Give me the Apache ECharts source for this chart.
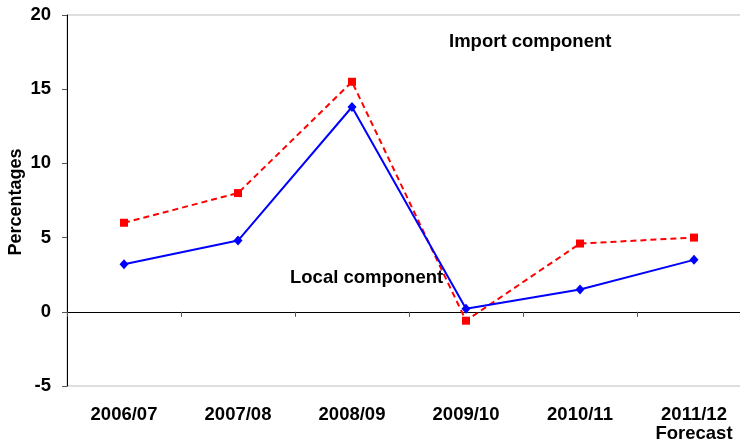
<!DOCTYPE html>
<html>
<head>
<meta charset="utf-8">
<script src="https://cdn.jsdelivr.net/npm/echarts@6/dist/echarts.min.js"></script>
<style>
html,body{margin:0;padding:0;background:#fff;}
#chart{width:740px;height:443px;}
</style>
</head>
<body>
<div id="chart"></div>
<script>
var categories = ['2006/07', '2007/08', '2008/09', '2009/10', '2010/11', '2011/12\nForecast'];
var importComponent = [6.0, 8.0, 15.5, -0.6, 4.6, 5.0];
var localComponent = [3.2, 4.8, 13.8, 0.2, 1.5, 3.5];
var yMin = -5, yMax = 20, yStep = 5;
var yAxisTitle = 'Percentages';

var FONT = '"Liberation Sans", Arial, sans-serif';
var chart = echarts.init(document.getElementById('chart'));
chart.setOption({
  animation: false,
  textStyle: { fontFamily: FONT },
  grid: {
    left: 67, right: -11, top: 15, bottom: 57,
    containLabel: false, outerBoundsMode: 'none',
    show: true, borderColor: '#bdbdbd', borderWidth: 1, backgroundColor: 'transparent'
  },
  xAxis: [
    {
      type: 'category', data: categories, position: 'bottom',
      axisLine: { show: false, onZero: false },
      axisTick: { show: false },
      splitLine: { show: false },
      axisLabel: {
        margin: 19, color: '#000', fontWeight: 'bold', fontSize: 18.5,
        fontFamily: FONT, lineHeight: 19, interval: 0
      }
    },
    {
      type: 'category', data: categories, position: 'top',
      axisLine: { show: true, onZero: true, lineStyle: { color: '#000', width: 1 } },
      axisTick: { show: true, inside: true, length: 5, lineStyle: { color: '#555' } },
      axisLabel: { show: false },
      splitLine: { show: false }
    }
  ],
  yAxis: {
    type: 'value', min: yMin, max: yMax, interval: yStep,
    axisLine: { show: true, onZero: false, lineStyle: { color: '#000', width: 1 } },
    axisTick: { show: true, length: 5, lineStyle: { color: '#555' } },
    splitLine: { show: false },
    axisLabel: { margin: 16, color: '#000', fontWeight: 'bold', fontSize: 18.5, fontFamily: FONT }
  },
  series: [
    {
      name: 'Import component', type: 'line', data: importComponent,
      xAxisIndex: 0,
      symbol: 'rect', symbolSize: 8,
      itemStyle: { color: '#ff0000' },
      lineStyle: { color: '#ff0000', width: 2, type: [6, 4] }
    },
    {
      name: 'Local component', type: 'line', data: localComponent,
      xAxisIndex: 0,
      symbol: 'diamond', symbolSize: [9, 10],
      itemStyle: { color: '#0000ff' },
      lineStyle: { color: '#0000ff', width: 2 }
    }
  ],
  graphic: [
    { type: 'text', x: 16, y: 202, rotation: Math.PI / 2,
      style: { text: yAxisTitle, fill: '#000', font: 'bold 18px ' + FONT,
               align: 'center', verticalAlign: 'middle' } },
    { type: 'text', left: 449, top: 32,
      style: { text: 'Import component', fill: '#000', font: 'bold 18.5px ' + FONT } },
    { type: 'text', left: 290, top: 268,
      style: { text: 'Local component', fill: '#000', font: 'bold 18.5px ' + FONT } }
  ]
});
</script>
</body>
</html>
